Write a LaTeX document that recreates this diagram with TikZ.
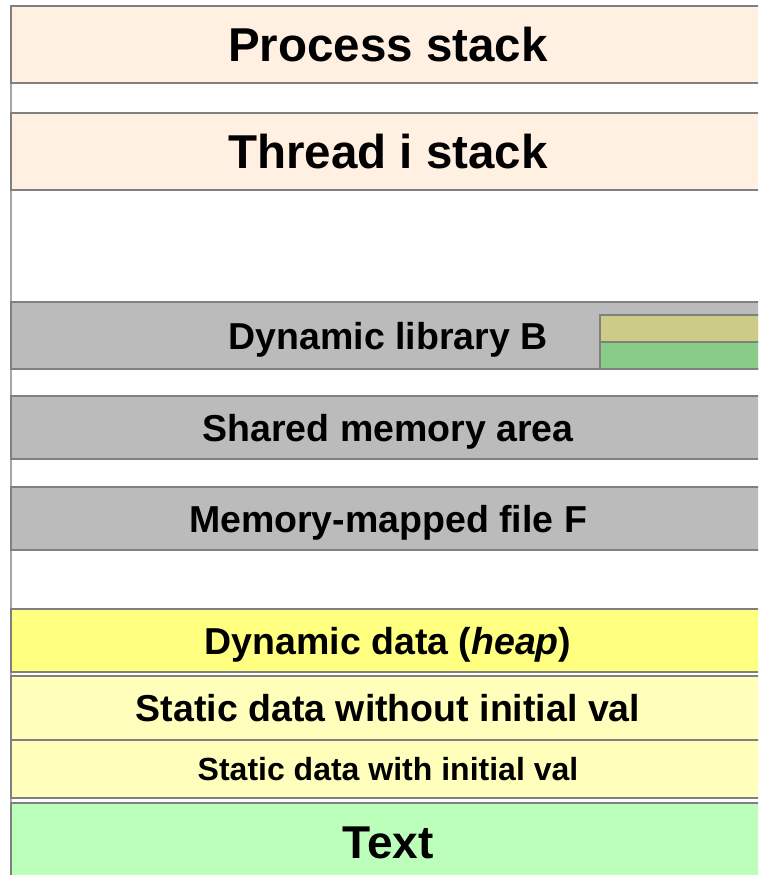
\documentclass[tikz,border=0pt]{standalone}
\usepackage{fontspec}
\setmainfont{Liberation Sans}
\usepackage{tikz}
\usetikzlibrary{positioning}

\definecolor{stackcol}{HTML}{FFF0E2}
\definecolor{mapcol}{HTML}{BBBBBB}
\definecolor{heapcol}{HTML}{FFFF80}
\definecolor{statcol}{HTML}{FFFFBB}
\definecolor{codecol}{HTML}{BBFFBB}
\definecolor{libdatcol}{HTML}{CCCC88}
\definecolor{libcodecol}{HTML}{88CC88}
\definecolor{edgecol}{HTML}{808080}

\begin{document}
\begin{tikzpicture}[x=1pt, y=-1pt,
    band/.style={draw=edgecol, line width=2pt, anchor=north west, outer sep=0pt,
                 inner sep=0pt, minimum width=754pt, text depth=0pt},
    bigtext/.style={font=\fontsize{47.5}{50}\selectfont\bfseries},
    midtext/.style={font=\fontsize{37.5}{40}\selectfont\bfseries},
    smalltext/.style={font=\fontsize{32}{34}\selectfont\bfseries}]
    \useasboundingbox (0,0) rectangle (758,875);
    \clip (0,0) rectangle (758,875);

    % left edge of the address space
    \draw[edgecol!70, line width=2pt] (11,5) -- (11,875);

    % stacks
    \node[band, fill=stackcol, minimum height=77pt, bigtext] (pstack) at (11,6) {Process stack};
    \node[band, fill=stackcol, minimum height=77pt, bigtext] (tstack) [below=30pt of pstack.south west, anchor=north west] {Thread i stack};

    % mapped regions
    \node[band, fill=mapcol, minimum height=67pt, midtext] (libB) [below=112pt of tstack.south west, anchor=north west] {Dynamic library B};
    \node[band, fill=mapcol, minimum height=63pt, midtext] (shm) [below=27pt of libB.south west, anchor=north west] {Shared memory area};
    \node[band, fill=mapcol, minimum height=63pt, midtext] (mmap) [below=28pt of shm.south west, anchor=north west] {Memory-mapped file F};

    % data and code of library B
    \node[band, fill=libdatcol, minimum width=170pt, minimum height=27pt] (libdat) at (600,315) {};
    \node[band, fill=libcodecol, minimum width=170pt, minimum height=27pt] (libcode) [below=0pt of libdat.south west, anchor=north west] {};

    % data segments
    \node[band, fill=heapcol, minimum height=63pt, midtext] (heap) [below=59pt of mmap.south west, anchor=north west] {Dynamic data (\textit{heap})};
    \node[band, fill=statcol, minimum height=64pt, midtext] (bss) [below=4pt of heap.south west, anchor=north west] {Static data without initial val};
    \node[band, fill=statcol, minimum height=58pt, smalltext] (data) [below=0pt of bss.south west, anchor=north west] {Static data with initial val};

    % code
    \node[band, fill=codecol, minimum height=80pt, font=\fontsize{46}{48}\selectfont\bfseries] (text) [below=5pt of data.south west, anchor=north west] {Text};
\end{tikzpicture}
\end{document}
